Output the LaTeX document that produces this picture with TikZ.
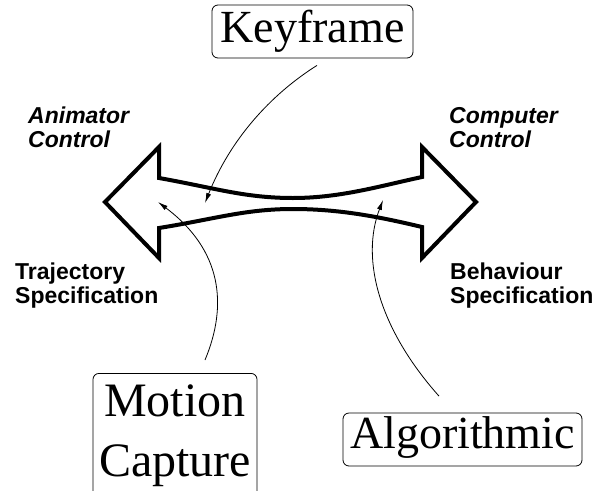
\documentclass[tikz,border=0pt]{standalone}
\usepackage{fontspec}
\setmainfont{Liberation Serif}
\newfontfamily\lsans{Liberation Sans}
\usetikzlibrary{arrows.meta}
\begin{document}
\begin{tikzpicture}[x=1pt,y=-1pt,
  box/.style={draw, line width=0.8pt, rounded corners=6pt, inner sep=0pt,
    font=\fontsize{46}{50}\selectfont, align=center},
  lab/.style={font=\lsans\bfseries\fontsize{23}{24}\selectfont, align=left, inner sep=0pt},
  ilab/.style={lab, font=\lsans\bfseries\itshape\fontsize{23}{24}\selectfont},
  con/.style={line width=0.8pt, -{Latex[length=10pt,width=5pt]}},
  bigarrow/.style={draw, line width=4pt, line join=miter, miter limit=10}]
\clip (0,0) rectangle (597,490);
\fill[white] (0,0) rectangle (597,490);

% double arrow
\draw[bigarrow] (159,178) .. controls (215,188) and (245,198) .. (293,198)
  .. controls (340,198) and (380,186) .. (422,177)
  -- (422,147) -- (476,202) -- (422,258) -- (422,227)
  .. controls (380,217) and (340,209) .. (293,209)
  .. controls (245,209) and (215,219) .. (159,228)
  -- (159,258) -- (105,202) -- (159,147) -- cycle;

% boxes
\node[box, minimum width=201, minimum height=53] (kf) at (312.5,31.5) {Keyframe};
\node[box, font=\fontsize{48}{60}\selectfont, minimum width=164, minimum height=124, anchor=north] (mc) at (175,373) {Motion\\Capture};
\node[box, minimum width=239, minimum height=53, text depth=13pt] (al) at (462.5,439.5) {Algorithmic};

% labels (base anchor = baseline of last line)
\node[ilab, anchor=base west] (ac) at (28,147) {Animator\\Control};
\node[ilab, anchor=base west] (cc) at (449,147) {Computer\\Control};
\node[lab, anchor=base west] (ts) at (15,303) {Trajectory\\Specification};
\node[lab, anchor=base west] (bs) at (450,303) {Behaviour\\Specification};

% connector endpoints
\coordinate (kft) at (205,203);
\coordinate (mct) at (158,202);
\coordinate (alt) at (383,200);

\draw[con] ([shift={(4.5,7)}]kf.south) .. controls (270,95) and (230,140) .. (kft);
\draw[con] ([shift={(30,-13)}]mc.north) .. controls (228,305) and (222,250) .. (mct);
\draw[con] ([shift={(-23.5,-16.5)}]al.north) .. controls (380,330) and (360,260) .. (alt);
\end{tikzpicture}
\end{document}
